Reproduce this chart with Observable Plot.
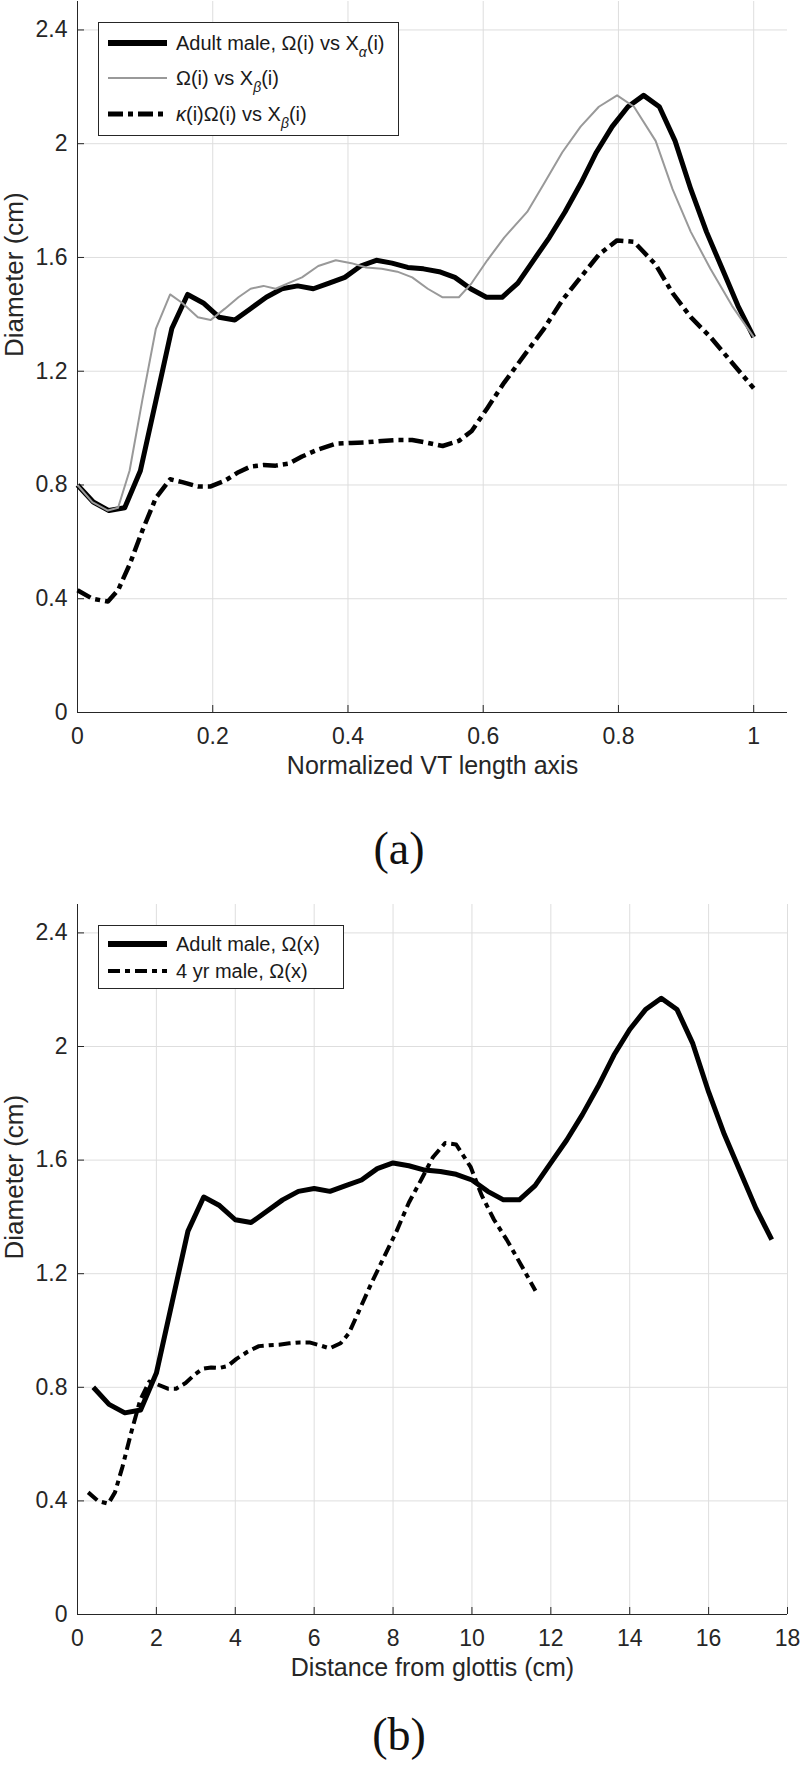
<!DOCTYPE html>
<html><head><meta charset="utf-8">
<script src="https://cdn.jsdelivr.net/npm/d3@7"></script>
<script src="https://cdn.jsdelivr.net/npm/@observablehq/plot@0.6"></script>
<style>
body{margin:0;background:#fff;}
#page{position:relative;width:800px;height:1776px;background:#fff;font-family:"Liberation Sans",Arial,sans-serif;color:#262626;overflow:hidden;}
.plotwrap{position:absolute;left:0;}
.legend{position:absolute;border:1px solid #262626;background:#fff;box-sizing:border-box;}
.lsample{position:absolute;left:9px;}
.ltext{position:absolute;left:77px;font-size:20px;white-space:nowrap;line-height:20px;transform:translateY(-50%);color:#1a1a1a;}
.ltext sub{font-size:14px;vertical-align:-7px;line-height:0;}
.cap{position:absolute;font-family:"Liberation Serif",serif;font-size:46px;transform:translate(-50%,-50%);color:#111;}
</style></head><body><div id="page"></div>
<script>
// ---------- data ----------
// Ω(i): diameters along the adult male vocal tract (cm)
const omega = [0.80,0.74,0.71,0.72,0.85,1.10,1.35,1.47,1.44,1.39,1.38,1.42,1.46,1.49,1.50,1.49,1.51,1.53,1.57,1.59,1.58,1.565,1.56,1.55,1.53,1.49,1.46,1.46,1.51,1.59,1.67,1.76,1.86,1.97,2.06,2.13,2.17,2.13,2.01,1.84,1.69,1.56,1.43,1.32];
// κ(i)Ω(i): scaled diameters (4 yr male)
const kappaOmega = [0.43,0.40,0.39,0.43,0.52,0.64,0.755,0.82,0.81,0.795,0.795,0.815,0.845,0.865,0.87,0.868,0.875,0.90,0.925,0.945,0.948,0.95,0.955,0.958,0.958,0.948,0.937,0.955,0.99,1.07,1.16,1.27,1.35,1.45,1.53,1.61,1.66,1.655,1.575,1.475,1.39,1.32,1.23,1.14];
// Xα(i): normalized adult positions
const xAlphaNorm = [0,0.0233,0.0465,0.0698,0.093,0.1163,0.1395,0.1628,0.186,0.2093,0.2326,0.2558,0.2791,0.3023,0.3256,0.3488,0.3721,0.3953,0.4186,0.4419,0.4651,0.4884,0.5116,0.5349,0.5581,0.5814,0.6047,0.6279,0.6512,0.6744,0.6977,0.7209,0.7442,0.7674,0.7907,0.814,0.8372,0.8605,0.8837,0.907,0.9302,0.9535,0.9767,1];
// Xβ(i): normalized child positions
const xBetaNorm = [0,0.022,0.045,0.060,0.077,0.096,0.116,0.137,0.155,0.178,0.197,0.218,0.238,0.256,0.275,0.293,0.312,0.332,0.356,0.382,0.405,0.427,0.450,0.473,0.495,0.518,0.540,0.564,0.583,0.606,0.631,0.665,0.690,0.717,0.744,0.771,0.798,0.823,0.855,0.880,0.907,0.936,0.968,1.0];
// distance from glottis (cm)
const adultDist = [0.4,0.8,1.2,1.6,2.0,2.4,2.8,3.2,3.6,4.0,4.4,4.8,5.2,5.6,6.0,6.4,6.8,7.2,7.6,8.0,8.4,8.8,9.2,9.6,10.0,10.4,10.8,11.2,11.6,12.0,12.4,12.8,13.2,13.6,14.0,14.4,14.8,15.2,15.6,16.0,16.4,16.8,17.2,17.6];
const childDist = [0.27,0.52,0.78,0.95,1.14,1.36,1.59,1.82,2.03,2.29,2.50,2.74,2.97,3.17,3.39,3.59,3.81,4.03,4.31,4.60,4.86,5.11,5.37,5.63,5.88,6.14,6.39,6.67,6.88,7.14,7.43,7.81,8.09,8.40,8.71,9.01,9.32,9.60,9.97,10.25,10.56,10.88,11.25,11.61];

const xTicksA = [0,0.2,0.4,0.6,0.8,1];
const xTicksB = [0,2,4,6,8,10,12,14,16,18];
const yTicks = [0,0.4,0.8,1.2,1.6,2,2.4];
const xLabelA = "Normalized VT length axis";
const xLabelB = "Distance from glottis (cm)";
const yLabel = "Diameter (cm)";

const pts = (xs, ys) => ys.map((v, i) => ({x: xs[i], y: v}));

const GRID = "#dedede", AX = "#262626";

function makePlot({xDomain, xTicks, marginTop, height, lines, xLabel}) {
  return Plot.plot({
    width: 800, height, marginLeft: 77, marginRight: 13, marginTop, marginBottom: 80,
    style: {fontFamily: "'Liberation Sans', Arial, sans-serif", fontSize: "23px", color: AX, background: "transparent", overflow: "visible"},
    x: {domain: xDomain},
    y: {domain: [0, 2.5]},
    marks: [
      Plot.ruleX(xTicks, {x: d => d, stroke: GRID, strokeWidth: 1}),
      Plot.ruleY(yTicks, {y: d => d, stroke: GRID, strokeWidth: 1}),
      Plot.ruleX([0], {stroke: AX, strokeWidth: 1}),
      Plot.ruleY([0], {stroke: AX, strokeWidth: 1}),
      Plot.ruleX(xTicks, {x: d => d, y1: 0, y2: 0, insetTop: -7, stroke: AX}),
      Plot.ruleY(yTicks, {y: d => d, x1: 0, x2: 0, insetRight: -7, stroke: AX}),
      ...lines,
      Plot.axisX(xTicks, {tickSize: 0, tickPadding: 15, label: null, tickFormat: d => String(d), fontSize: 23}),
      Plot.axisY(yTicks, {tickSize: 0, tickPadding: 10, label: null, tickFormat: d => String(d), fontSize: 23}),
      Plot.text([xLabel], {text: d => d, frameAnchor: "bottom", dy: 61, fontSize: 25, fill: AX}),
      Plot.text([yLabel], {text: d => d, frameAnchor: "left", dx: -63, rotate: -90, fontSize: 26, fill: AX})
    ]
  });
}

const lineOpts = {strokeLinecap: "butt", strokeLinejoin: "round"};

const plotA = makePlot({
  xDomain: [0, 1.05], xTicks: xTicksA, marginTop: 1, height: 792, xLabel: xLabelA,
  lines: [
    Plot.line(pts(xAlphaNorm, omega), {x: "x", y: "y", stroke: "#000", strokeWidth: 5, ...lineOpts}),
    Plot.line(pts(xBetaNorm, omega), {x: "x", y: "y", stroke: "#999", strokeWidth: 2, ...lineOpts}),
    Plot.line(pts(xBetaNorm, kappaOmega), {x: "x", y: "y", stroke: "#000", strokeWidth: 4.5, strokeDasharray: "15,5,5,5", ...lineOpts})
  ]
});

const plotB = makePlot({
  xDomain: [0, 18], xTicks: xTicksB, marginTop: 24, height: 814, xLabel: xLabelB,
  lines: [
    Plot.line(pts(adultDist, omega), {x: "x", y: "y", stroke: "#000", strokeWidth: 5, ...lineOpts}),
    Plot.line(pts(childDist, kappaOmega), {x: "x", y: "y", stroke: "#000", strokeWidth: 4, strokeDasharray: "12,5,5,5", ...lineOpts})
  ]
});

const page = document.getElementById("page");
function place(el, top) {
  const w = document.createElement("div");
  w.className = "plotwrap"; w.style.top = top + "px";
  w.appendChild(el); page.appendChild(w);
}
place(plotA, 0);
place(plotB, 880);

function legend(left, top, width, height, rows) {
  const box = document.createElement("div");
  box.className = "legend";
  Object.assign(box.style, {left: left + "px", top: top + "px", width: width + "px", height: height + "px"});
  for (const r of rows) {
    const ns = "http://www.w3.org/2000/svg";
    const s = document.createElementNS(ns, "svg");
    s.setAttribute("width", 60); s.setAttribute("height", 12);
    s.setAttribute("class", "lsample");
    s.style.top = (r.y - 6) + "px";
    const l = document.createElementNS(ns, "line");
    l.setAttribute("x1", 0); l.setAttribute("x2", 59); l.setAttribute("y1", 6); l.setAttribute("y2", 6);
    l.setAttribute("stroke", r.stroke); l.setAttribute("stroke-width", r.width);
    if (r.dash) l.setAttribute("stroke-dasharray", r.dash);
    s.appendChild(l); box.appendChild(s);
    const t = document.createElement("div");
    t.className = "ltext"; t.style.top = r.y + "px"; t.innerHTML = r.html;
    box.appendChild(t);
  }
  page.appendChild(box);
}

legend(98, 22, 301, 114, [
  {y: 20, stroke: "#000", width: 6, html: "Adult male, Ω(i) vs X<sub><i>α</i></sub>(i)"},
  {y: 55, stroke: "#999", width: 2, html: "Ω(i) vs X<sub><i>β</i></sub>(i)"},
  {y: 91, stroke: "#000", width: 5, dash: "15,5,5,5", html: "<i>κ</i>(i)Ω(i) vs X<sub><i>β</i></sub>(i)"}
]);
legend(98, 925, 246, 64, [
  {y: 18, stroke: "#000", width: 6, html: "Adult male, Ω(x)"},
  {y: 45, stroke: "#000", width: 4, dash: "12,5,5,5", html: "4 yr male, Ω(x)"}
]);

function caption(text, x, y) {
  const c = document.createElement("div");
  c.className = "cap"; c.textContent = text;
  c.style.left = x + "px"; c.style.top = y + "px";
  page.appendChild(c);
}
caption("(a)", 399, 848);
caption("(b)", 399, 1734);
</script></body></html>
